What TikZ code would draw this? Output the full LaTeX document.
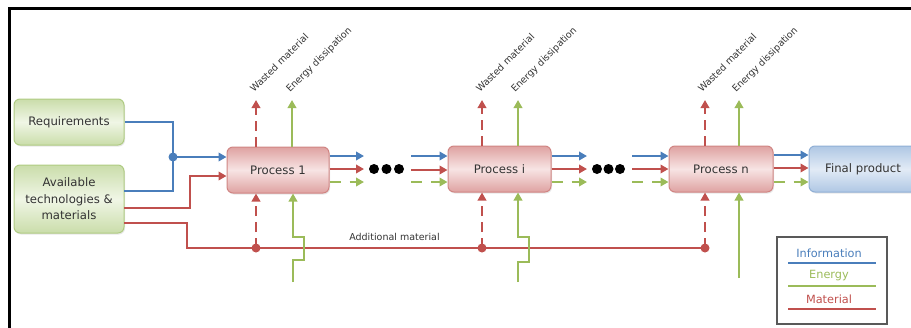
\documentclass[tikz,border=0pt]{standalone}
\usepackage{fontspec}
\setmainfont{DejaVu Sans}
\usetikzlibrary{arrows.meta,shadows}
\definecolor{cblue}{HTML}{4A7EBB}
\definecolor{cred}{HTML}{C0504D}
\definecolor{cgreen}{HTML}{9BBB59}
\definecolor{gdark}{HTML}{CADDAA}
\definecolor{glight}{HTML}{F0F6E6}
\definecolor{gborder}{HTML}{AFCB82}
\definecolor{pdark}{HTML}{DFA2A1}
\definecolor{plight}{HTML}{F7E4E4}
\definecolor{pborder}{HTML}{D08583}
\definecolor{bdark}{HTML}{AFC7E4}
\definecolor{blight}{HTML}{E2EBF6}
\definecolor{bborder}{HTML}{90AFD5}
\definecolor{txt}{HTML}{333333}
\begin{document}
\begin{tikzpicture}[x=1pt,y=-1pt,
  boxbase/.style={rounded corners=6pt, line width=1pt, text=txt,
    font=\fontsize{11.7}{16.5}\selectfont, align=center, inner sep=2pt,
    drop shadow={opacity=0.18, shadow xshift=1pt, shadow yshift=-1.5pt}},
  gbox/.style={boxbase, draw=gborder, top color=gdark, bottom color=gdark, middle color=glight},
  pbox/.style={boxbase, draw=pborder, top color=pdark, bottom color=pdark, middle color=plight,
    minimum width=102pt, minimum height=46pt},
  bbox/.style={boxbase, draw=bborder, top color=bdark, bottom color=bdark, middle color=blight},
  tip/.style={-{Triangle[length=8pt,width=8.5pt]}},
  info/.style={draw=cblue, line width=2.7pt},
  ener/.style={draw=cgreen, line width=2.7pt},
  mat/.style={draw=cred, line width=2.7pt},
  mdash/.style={dash pattern=on 10pt off 6pt},
  gdash/.style={dash pattern=on 11pt off 9pt},
  lbl/.style={font=\fontsize{9.5}{11}\selectfont, text=txt, inner sep=0pt},
  leglbl/.style={font=\fontsize{11.3}{13}\selectfont, inner sep=0pt},
  bdot/.style={circle, fill=black, inner sep=0pt, minimum size=10pt},
]
\useasboundingbox (0,0) rectangle (911,327);
\clip (0,0) rectangle (911,327);
\draw[line width=2.5pt] (9.5,8.5) rectangle (940,345);

% boxes
\node[gbox, minimum width=110pt, minimum height=46pt] (req) at (69,122) {Requirements};
\node[gbox, minimum width=110pt, minimum height=68pt] (avail) at (69,199) {Available\\technologies \&\\materials};
\node[pbox] (p1) at (278,170) {Process 1};
\node[pbox, minimum width=103pt] (pi) at (499.5,169) {Process i};
\node[pbox, minimum width=104pt] (pn) at (721,169) {Process n};
\node[bbox, minimum width=108pt, minimum height=46pt] (final) at (863,169) {Final product};

% coordinates
\coordinate (j1) at (173,157);
\coordinate (rq1) at (124,191);
\coordinate (av1) at (124,208);
\coordinate (av2) at (124,223);
\coordinate (d1) at (256,248);
\coordinate (d2) at (482,248);
\coordinate (d3) at (705,248);

% inputs to process 1
\draw[info] (req.east) -| (j1) |- (rq1);
\fill[cblue] (j1) circle (4.5pt);
\draw[info, tip] (j1) -- (p1.west |- j1);
\draw[mat, tip] (av1) -| (190,176) -- (p1.west |- 0,176);
\draw[mat] (av2) -| (187,248) -- (d3);
\foreach \d in {d1,d2,d3} \fill[cred] (\d) circle (4.5pt);

% vertical flows
\draw[mat, mdash, tip] (d1) -- (p1.south -| d1);
\draw[mat, mdash, tip] (d2) -- (pi.south -| d2);
\draw[mat, mdash, tip] (d3) -- (pn.south -| d3);
\draw[mat, mdash, tip] (p1.north -| d1) -- (256,100);
\draw[mat, mdash, tip] (pi.north -| d2) -- (482,100);
\draw[mat, mdash, tip] (pn.north -| d3) -- (705,100);
\draw[ener, tip] (p1.north -| 292,0) -- (292,100);
\draw[ener, tip] (pi.north -| 518,0) -- (518,100);
\draw[ener, tip] (pn.north -| 739,0) -- (739,100);
\draw[ener, tip] (293,282) -- (293,260) -- (304,260) -- (304,237) -- (293,237) -- (p1.south -| 293,0);
\draw[ener, tip] (518,282) -- (518,262) -- (529,262) -- (529,237) -- (518,237) -- (pi.south -| 518,0);
\draw[ener, tip] (739,278) -- (pn.south -| 739,0);

% vertical labels
\node[lbl, rotate=45, anchor=base west] (w1) at (254,93) {Wasted material};
\node[lbl, rotate=45, anchor=base west] (e1) at (290,93) {Energy dissipation};
\node[lbl, rotate=45, anchor=base west] (w2) at (480,93) {Wasted material};
\node[lbl, rotate=45, anchor=base west] (e2) at (515,93) {Energy dissipation};
\node[lbl, rotate=45, anchor=base west] (w3) at (702,93) {Wasted material};
\node[lbl, rotate=45, anchor=base west] (e3) at (736,93) {Energy dissipation};
\node[lbl] (addm) at (394.5,237) {Additional material};

% horizontal outputs
\draw[info, tip] (p1.east |- 0,156) -- (364,156);
\draw[mat, tip] (p1.east |- 0,169) -- (364,169);
\draw[ener, gdash, tip] (p1.east |- 0,182) -- (364,182);
\node[bdot] (k1) at (374,169) {};
\node[bdot] (k2) at (386.5,169) {};
\node[bdot] (k3) at (399,169) {};
\draw[info, tip] (411,156) -- (pi.west |- 0,156);
\draw[mat, tip] (411,170) -- (pi.west |- 0,170);
\draw[ener, gdash, tip] (411,182) -- (pi.west |- 0,182);
\draw[info, tip] (pi.east |- 0,156) -- (587,156);
\draw[mat, tip] (pi.east |- 0,169) -- (587,169);
\draw[ener, gdash, tip] (pi.east |- 0,182) -- (587,182);
\node[bdot] (k4) at (597,169) {};
\node[bdot] (k5) at (608.5,169) {};
\node[bdot] (k6) at (620,169) {};
\draw[info, tip] (632,156) -- (pn.west |- 0,156);
\draw[mat, tip] (632,169) -- (pn.west |- 0,169);
\draw[ener, gdash, tip] (632,182) -- (pn.west |- 0,182);
\draw[info, tip] (pn.east |- 0,155) -- (final.west |- 0,155);
\draw[mat, tip] (pn.east |- 0,168) -- (final.west |- 0,168);
\draw[ener, gdash, tip] (pn.east |- 0,182) -- (final.west |- 0,182);

% legend
\node[draw=black!65, line width=1.2pt, minimum width=110pt, minimum height=87pt, inner sep=0pt] (leg) at (832,280.5) {};
\node[leglbl, text=cblue] (li) at (829,253) {Information};
\node[leglbl, text=cgreen] (le) at (829,276) {Energy};
\node[leglbl, text=cred] (lm) at (829,299) {Material};
\draw[info] (788,263) -- (876,263);
\draw[ener] (788,286) -- (876,286);
\draw[mat] (788,309) -- (876,309);
\end{tikzpicture}
\end{document}
